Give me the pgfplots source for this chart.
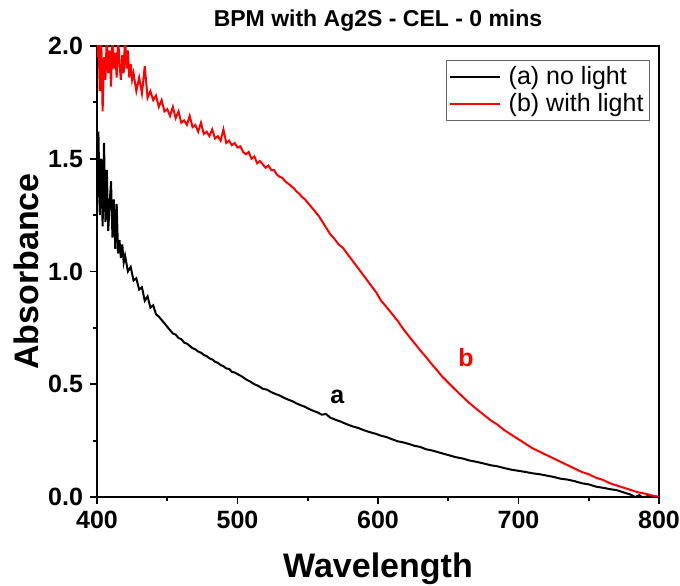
\documentclass[border=0pt]{standalone}
\usepackage{fontspec}
\setmainfont{Liberation Sans}
\usepackage{pgfplots}
\pgfplotsset{compat=1.18}
\usetikzlibrary{calc}

% (a) no light
\pgfplotstableread{
x y
400 1.30
401 1.62
402 1.25
403 1.50
404 1.20
405 1.57
406 1.22
407 1.45
408 1.18
409 1.30
410 1.40
411 1.15
412 1.32
413 1.10
414 1.30
415 1.08
416 1.14
417 1.06
418 1.12
419 1.04
420 1.07
422 1.00
424 1.02
426 0.96
428 0.97
430 0.92
432 0.93
434 0.87
436 0.89
438 0.84
440 0.85
442 0.81
444 0.80
446 0.785
448 0.77
450 0.755
452 0.74
454 0.725
456 0.72
458 0.705
460 0.70
462 0.685
464 0.68
466 0.67
468 0.66
470 0.655
472 0.645
474 0.64
476 0.63
478 0.625
480 0.615
482 0.61
484 0.60
486 0.595
488 0.585
490 0.58
492 0.57
494 0.568
496 0.555
498 0.552
500 0.545
503 0.535
506 0.522
509 0.512
512 0.50
515 0.492
518 0.48
521 0.476
524 0.465
527 0.457
530 0.45
533 0.44
536 0.432
539 0.425
542 0.415
545 0.407
548 0.40
551 0.39
554 0.382
557 0.375
560 0.365
563 0.368
566 0.352
570 0.342
574 0.333
578 0.322
582 0.313
586 0.306
590 0.296
594 0.288
598 0.281
602 0.272
606 0.266
610 0.256
614 0.247
618 0.242
622 0.235
626 0.227
630 0.222
634 0.212
638 0.207
642 0.20
646 0.193
650 0.186
655 0.177
660 0.171
665 0.162
670 0.156
675 0.149
680 0.141
685 0.136
690 0.128
695 0.121
700 0.116
705 0.111
710 0.105
715 0.101
720 0.095
725 0.089
730 0.081
735 0.077
740 0.07
745 0.061
750 0.056
755 0.046
760 0.041
765 0.035
770 0.03
775 0.02
780 0.01
783 0.0
786 0.008
789 -0.005
792 0.005
795 -0.005
798 0.002
800 0.0
}\noLight

% (b) with light
\pgfplotstableread{
x y
400 1.95
401 2.05
402 1.80
403 2.05
404 1.71
405 1.95
406 1.85
407 2.05
408 1.88
409 1.98
410 1.82
411 2.05
412 1.90
413 1.97
414 1.86
415 2.05
416 1.92
417 1.85
418 1.96
419 1.88
420 2.05
421 1.90
422 1.98
423 1.86
424 1.92
425 1.85
426 1.88
428 1.80
430 1.86
432 1.79
434 1.91
436 1.77
438 1.80
440 1.76
442 1.78
444 1.73
446 1.76
448 1.71
450 1.72
452 1.69
454 1.73
456 1.68
458 1.71
460 1.66
462 1.67
464 1.65
466 1.69
468 1.64
470 1.65
472 1.62
474 1.66
476 1.61
478 1.62
480 1.60
482 1.63
484 1.59
486 1.60
488 1.58
490 1.63
492 1.57
494 1.58
496 1.56
498 1.57
500 1.55
502 1.555
504 1.53
506 1.52
508 1.53
510 1.50
512 1.51
514 1.48
516 1.49
518 1.475
520 1.46
522 1.47
524 1.45
526 1.45
528 1.43
530 1.42
532 1.415
534 1.40
536 1.39
538 1.38
540 1.37
542 1.355
544 1.345
546 1.33
548 1.32
550 1.305
552 1.29
554 1.275
556 1.26
558 1.245
560 1.225
563 1.195
566 1.165
569 1.145
572 1.12
575 1.105
578 1.08
581 1.055
584 1.03
587 1.005
590 0.98
593 0.955
596 0.93
599 0.905
602 0.872
606 0.843
610 0.812
614 0.781
618 0.745
622 0.713
626 0.682
630 0.651
634 0.622
638 0.591
642 0.562
646 0.532
650 0.507
655 0.476
660 0.446
665 0.417
670 0.391
675 0.366
680 0.341
685 0.321
690 0.296
695 0.276
700 0.256
705 0.236
710 0.216
715 0.201
720 0.186
725 0.171
730 0.156
735 0.141
740 0.126
745 0.111
750 0.101
755 0.086
760 0.076
765 0.061
770 0.051
775 0.041
780 0.031
785 0.021
790 0.015
795 0.007
800 0.0
}\withLight

\begin{document}
\begin{tikzpicture}
\begin{axis}[
    scale only axis,
    width=281pt, height=225.5pt,
    xmin=400, xmax=800,
    ymin=0, ymax=2.0,
    xtick={400,500,600,700,800},
    ytick={0,0.5,1.0,1.5,2.0},
    minor x tick num=1,
    minor y tick num=1,
    tick pos=left,
    tick align=outside,
    major tick length=3.5pt,
    minor tick length=2pt,
    every tick/.style={black, line width=0.9pt},
    axis line style={line width=1.1pt},
    /pgf/number format/assume math mode=true,
    ticklabel style={font=\bfseries\fontsize{12.5}{14}\selectfont},
    yticklabel style={/pgf/number format/.cd, fixed, fixed zerofill, precision=1},
    xticklabel style={/pgf/number format/.cd, fixed, precision=0},
    title={BPM with Ag2S - CEL - 0 mins},
    title style={font=\bfseries\fontsize{11.5}{13}\selectfont, yshift=-2pt},
    xlabel={Wavelength},
    ylabel={Absorbance},
    label style={font=\bfseries\fontsize{17}{19}\selectfont},
    xlabel style={yshift=-5pt},
    ylabel style={yshift=-2pt},
    legend style={at={(0.984,0.969)}, anchor=north east,
        draw=black!60, line width=0.5pt,
        font=\fontsize{12.5}{13.5}\selectfont,
        inner sep=1pt, row sep=-1pt},
    legend cell align=left,
    legend image code/.code={\draw[#1, line width=1pt] (0pt,0pt) -- (25pt,0pt); \path (27pt,0pt);},
]
\addplot[black, line width=1pt] table[x=x, y=y] {\noLight};
\addplot[red, line width=1pt] table[x=x, y=y] {\withLight};
\legend{(a) no light, (b) with light}
\node[font=\bfseries\fontsize{12.5}{14}\selectfont, black] at (axis cs:571,0.443) {a};
\node[font=\bfseries\fontsize{12.5}{14}\selectfont, red] at (axis cs:662.6,0.62) {b};
\end{axis}
\pgfresetboundingbox
\path ($(current axis.south west)+(-48.5pt,-44.5pt)$) rectangle ($(current axis.north east)+(10.5pt,23pt)$);
\end{tikzpicture}
\end{document}
